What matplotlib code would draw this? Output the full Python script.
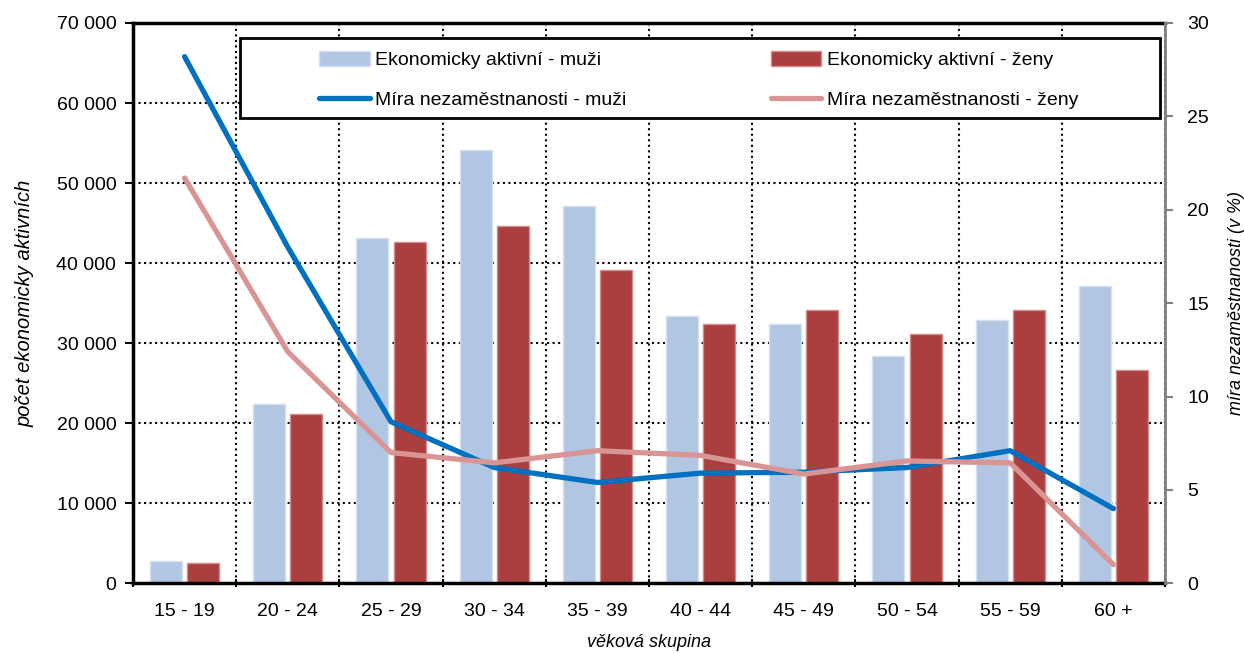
import matplotlib.pyplot as plt
import matplotlib.ticker as mticker
from matplotlib.patches import Rectangle
import numpy as np

plt.rcParams['font.family'] = ['Liberation Sans', 'DejaVu Sans']

skupiny = ['15 - 19', '20 - 24', '25 - 29', '30 - 34', '35 - 39',
           '40 - 44', '45 - 49', '50 - 54', '55 - 59', '60 +']
aktivni_muzi = [2800, 22400, 43100, 54100, 47100, 33400, 32400, 28400, 32900, 37100]
aktivni_zeny = [2600, 21100, 42600, 44600, 39100, 32400, 34100, 31100, 34100, 26600]
mira_muzi = [28.2, 18.0, 8.65, 6.2, 5.4, 5.9, 5.95, 6.2, 7.1, 4.0]
mira_zeny = [21.7, 12.4, 7.0, 6.45, 7.1, 6.85, 5.85, 6.55, 6.45, 1.0]

x = np.arange(len(skupiny))

fig = plt.figure(figsize=(12.44, 6.53), dpi=100)
ax = fig.add_axes([0.1069, 0.1067, 0.8296, 0.8581])

ax.set_axisbelow(True)
b1 = ax.bar(x - 0.18, aktivni_muzi, width=0.31, color='#B0C6E2', edgecolor='#D5E1F0',
            linewidth=1, label='Ekonomicky aktivní - muži', zorder=2)
b2 = ax.bar(x + 0.18, aktivni_zeny, width=0.31, color='#AB3E3E', edgecolor='#D88A8A',
            linewidth=1, label='Ekonomicky aktivní - ženy', zorder=2)

ax.set_xlim(-0.5, len(skupiny) - 0.5)
ax.set_ylim(0, 70000)
ax.yaxis.set_major_locator(mticker.MultipleLocator(10000))
ax.yaxis.set_major_formatter(mticker.FuncFormatter(lambda v, p: '{:,.0f}'.format(v).replace(',', ' ')))
ax.set_xticks(x)
ax.set_xticklabels(skupiny)
ax.set_xticks(np.arange(-0.5, len(skupiny), 1), minor=True)
ax.tick_params(axis='x', which='major', length=0, pad=14, labelsize=14)
ax.tick_params(axis='x', which='minor', length=6, width=1.5, direction='inout')
ax.tick_params(axis='y', length=6, width=1.5, direction='out', labelsize=14, pad=6)

ax.grid(True, which='minor', axis='x', color='black', linestyle=':', linewidth=1.5)
ax.grid(True, which='major', axis='y', color='black', linestyle=':', linewidth=1.5)

for s in ['left', 'bottom', 'top']:
    ax.spines[s].set_linewidth(2.5)
ax.spines['right'].set_visible(False)

ax.set_ylabel('počet ekonomicky aktivních', fontsize=14.5, style='italic', labelpad=16)
ax.set_xlabel('věková skupina', fontsize=13, style='italic', labelpad=10)

ax2 = ax.twinx()
l1, = ax2.plot(x, mira_muzi, color='#0070C0', linewidth=3.8, label='Míra nezaměstnanosti - muži',
               solid_capstyle='round', zorder=3)
l2, = ax2.plot(x, mira_zeny, color='#D99594', linewidth=3.8, label='Míra nezaměstnanosti - ženy',
               solid_capstyle='round', zorder=3)
ax2.set_ylim(0, 30)
ax2.yaxis.set_major_locator(mticker.MultipleLocator(5))
ax2.tick_params(axis='y', length=6, width=1.5, direction='out', labelsize=14, pad=10, color='#808080')
ax2.spines['right'].set_color('#808080')
ax2.spines['right'].set_linewidth(2)
for s in ['left', 'bottom', 'top']:
    ax2.spines[s].set_visible(False)
ax2.set_ylabel('míra nezaměstnanosti (v %)', fontsize=13, style='italic', labelpad=14)

# legend box drawn by hand, the legend itself has no frame
ax2.add_patch(Rectangle((0.1037, 0.830), 0.8913, 0.143, transform=ax2.transAxes,
                        facecolor='white', edgecolor='black', linewidth=2, zorder=4))
leg = ax2.legend([b1, l1, b2, l2],
                 [b1.get_label(), l1.get_label(), b2.get_label(), l2.get_label()],
                 ncol=2, loc='upper left', bbox_to_anchor=(0.1802, 0.950),
                 fontsize=14, frameon=False, handlelength=2.6, handleheight=0.8,
                 handletextpad=0.3, borderaxespad=0, borderpad=0, labelspacing=1.13,
                 columnspacing=7.4)
leg.set_zorder(5)

fig.savefig('out.png', dpi=100)
